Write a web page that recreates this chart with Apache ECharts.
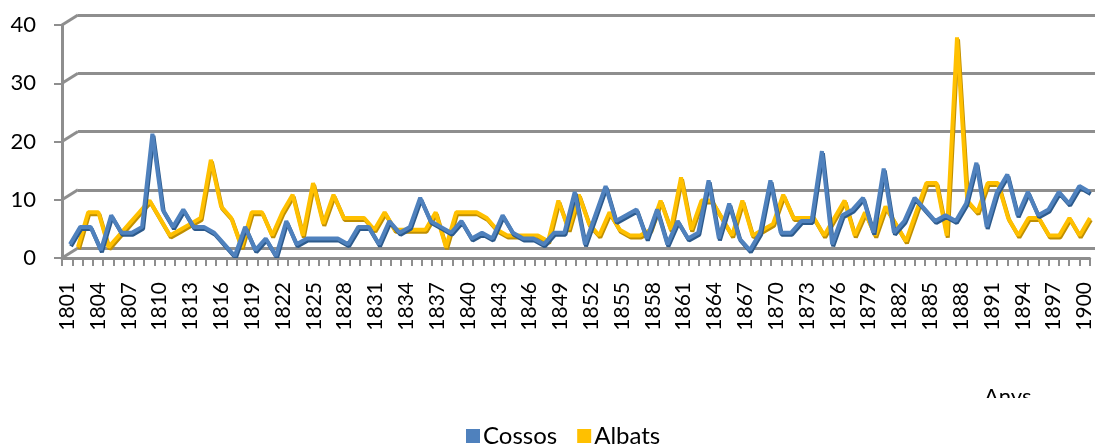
<!DOCTYPE html>
<html><head><meta charset="utf-8">
<script src="https://cdn.jsdelivr.net/npm/echarts@6/dist/echarts.min.js"></script>
<style>html,body{margin:0;padding:0;background:#fff}#c{width:1095px;height:446px}</style>
</head><body><div id="c"></div>
<script>
const years = ['1801','1802','1803','1804','1805','1806','1807','1808','1809','1810',
'1811','1812','1813','1814','1815','1816','1817','1818','1819','1820',
'1821','1822','1823','1824','1825','1826','1827','1828','1829','1830',
'1831','1832','1833','1834','1835','1836','1837','1838','1839','1840',
'1841','1842','1843','1844','1845','1846','1847','1848','1849','1850',
'1851','1852','1853','1854','1855','1856','1857','1858','1859','1860',
'1861','1862','1863','1864','1865','1866','1867','1868','1869','1870',
'1871','1872','1873','1874','1875','1876','1877','1878','1879','1880',
'1881','1882','1883','1884','1885','1886','1887','1888','1889','1890',
'1891','1892','1893','1894','1895','1896','1897','1898','1899','1900'];

const cossos = [2,5,5,1,7,4,4,5,21,8,
5,8,5,5,4,2,0,5,1,3,
0,6,2,3,3,3,3,2,5,5,
2,6,4,5,10,6,5,4,6,3,
4,3,7,4,3,3,2,4,4,11,
2,7,12,6,7,8,3,8,2,6,
3,4,13,3,9,3,1,4,13,4,
4,6,6,18,2,7,8,10,4,15,
4,6,10,8,6,7,6,9,16,5,
11,14,7,11,7,8,11,9,12,11];

const albats = [1,7,7,1,3,5,7,9,6,3,
4,5,6,16,8,6,1,7,7,3,
7,10,3,12,5,10,6,6,6,4,
7,4,4,4,4,7,1,7,7,7,
6,4,3,3,3,3,2,9,4,10,
5,3,7,4,3,3,4,9,4,13,
4,9,9,6,3,9,3,4,5,10,
6,6,6,3,6,9,3,7,3,8,
5,2,7,12,12,3,37,9,7,12,
12,6,3,6,6,3,3,6,3,6];

const seriesNames = ['Cossos','Albats'];
const axisTitle = 'Anys';
const yMin = 0, yMax = 40, yStep = 10;

const FONT = 'Lato, "Open Sans", sans-serif';
const GRID_COLOR = '#8e8e8e';
const BLUE = '#4f81bd', BLUE_DARK = '#2c5a8c';
const GOLD = '#ffc000', GOLD_DARK = '#c08f00';

const chart = echarts.init(document.getElementById('c'), null, {renderer: 'canvas'});

// 0: back wall, 1: front axes, 2: Cossos plane, 3: Albats plane (pseudo-3D depth offsets)
const grids = [
  {left: 78, top: 15, width: 1017, height: 233},
  {left: 62, top: 25, width: 1030, height: 233},
  {left: 64.85, top: 23, width: 1030, height: 233},
  {left: 72.85, top: 20, width: 1030, height: 233}
];

function xAx(i, visible) {
  return {
    type: 'category', gridIndex: i, data: years, boundaryGap: true,
    show: visible,
    axisLine: {show: visible, lineStyle: {color: GRID_COLOR, width: 3}},
    axisTick: {show: visible, interval: 0, length: 8, lineStyle: {color: GRID_COLOR, width: 2}},
    axisLabel: {show: visible, interval: 2, rotate: 90, margin: 24, fontSize: 21,
      fontFamily: FONT, color: '#000'},
    splitLine: {show: false}
  };
}
function yAx(i, opts) {
  return Object.assign({
    type: 'value', gridIndex: i, min: yMin, max: yMax, interval: yStep,
    axisLine: {show: false}, axisTick: {show: false}, axisLabel: {show: false},
    splitLine: {show: false}
  }, opts);
}

const option = {
  backgroundColor: '#fff',
  animation: false,
  grid: grids,
  xAxis: [xAx(0, false), xAx(1, true), xAx(2, false), xAx(3, false)],
  yAxis: [
    yAx(0, {splitLine: {show: true, lineStyle: {color: GRID_COLOR, width: 3}}}),
    yAx(1, {
      axisLine: {show: true, lineStyle: {color: GRID_COLOR, width: 3}},
      axisTick: {show: true, length: 8, lineStyle: {color: GRID_COLOR, width: 2}},
      axisLabel: {show: true, margin: 26, fontSize: 22, fontFamily: FONT, color: '#000'}
    }),
    yAx(2, {show: false}),
    yAx(3, {show: false})
  ],
  legend: {
    data: seriesNames, left: 461, top: 419, icon: 'rect',
    itemWidth: 14, itemHeight: 14, itemGap: 20,
    textStyle: {fontSize: 24, fontFamily: FONT, color: '#000', padding: [0, 0, 0, -2]}
  },
  series: [
    {
      name: seriesNames[1], type: 'line', xAxisIndex: 3, yAxisIndex: 3, data: albats,
      symbol: 'none', z: 3,
      itemStyle: {color: GOLD},
      lineStyle: {color: GOLD, width: 4, shadowColor: GOLD_DARK, shadowBlur: 0, shadowOffsetX: 1, shadowOffsetY: 2}
    },
    {
      name: seriesNames[0], type: 'line', xAxisIndex: 2, yAxisIndex: 2, data: cossos,
      symbol: 'none', z: 4,
      itemStyle: {color: BLUE},
      lineStyle: {color: BLUE, width: 4, shadowColor: BLUE_DARK, shadowBlur: 0, shadowOffsetX: 1, shadowOffsetY: 2}
    }
  ]
};
chart.setOption(option);

// Depth connectors between the front value axis and the back-wall gridlines
const graphics = [];
for (let v = yMin; v <= yMax; v += yStep) {
  const yf = chart.convertToPixel({yAxisIndex: 1}, v);
  const yb = chart.convertToPixel({yAxisIndex: 0}, v);
  graphics.push({type: 'line', z: 1, shape: {x1: grids[1].left, y1: yf, x2: grids[0].left, y2: yb},
    style: {stroke: GRID_COLOR, lineWidth: 3}});
}
// Axis title (partly hidden, as in the original)
graphics.push({type: 'text', left: 984, top: 386, z: 10,
  style: {text: axisTitle, font: '22px ' + FONT, fill: '#000'}});
graphics.push({type: 'rect', z: 11, shape: {x: 970, y: 398, width: 90, height: 16},
  style: {fill: '#fff'}});
chart.setOption({graphic: graphics});
</script></body></html>
